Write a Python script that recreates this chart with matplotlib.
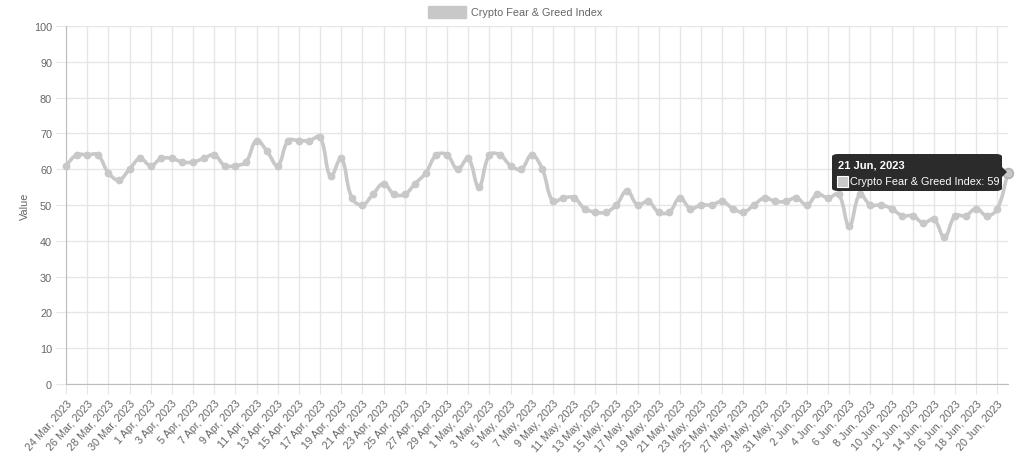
import datetime as dt
import numpy as np
import matplotlib
matplotlib.use("Agg")
import matplotlib.pyplot as plt
from matplotlib.path import Path
from matplotlib.patches import PathPatch, FancyBboxPatch, Rectangle, Polygon

# ---- data ----
start_date = dt.date(2023, 3, 24)
values = [61, 64, 64, 64, 59, 57, 60, 63, 61, 63,
          63, 62, 62, 63, 64, 61, 61, 62, 68, 65,
          61, 68, 68, 68, 69, 58, 63, 52, 50, 53,
          56, 53, 53, 56, 59, 64, 64, 60, 63, 55,
          64, 64, 61, 60, 64, 60, 51, 52, 52, 49,
          48, 48, 50, 54, 50, 51, 48, 48, 52, 49,
          50, 50, 51, 49, 48, 50, 52, 51, 51, 52,
          50, 53, 52, 53, 44, 53, 50, 50, 49, 47,
          47, 45, 46, 41, 47, 47, 49, 47, 49, 59]
dates = [start_date + dt.timedelta(days=i) for i in range(len(values))]
labels = [f"{d.day} {d.strftime('%b')}, {d.year}" for d in dates]
series_name = "Crypto Fear & Greed Index"
y_ticks = list(range(0, 101, 10))

# ---- style ----
plt.rcParams['font.family'] = ['Liberation Sans', 'DejaVu Sans']
W, H = 1024, 464
fig = plt.figure(figsize=(W / 100, H / 100), dpi=100)
L, R, T, B = 66, 1008, 27, 385
ax = fig.add_axes([L / W, 1 - B / H, (R - L) / W, (B - T) / H])

line_col = "#c8c8c8"
grid_col = "#e6e6e6"
text_col = "#666666"
fs = 7.8

n = len(values)
x = np.arange(n, dtype=float)
y = np.array(values, dtype=float)

ax.set_xlim(0, n - 1)
ax.set_ylim(0, 100)

# smooth curve (chart.js style bezier, tension 0.4) computed in pixel space
sx = (R - L) / (n - 1)
sy = (B - T) / 100.0
px, py = x * sx, y * sy
tension = 0.4
cp_prev = np.zeros((n, 2)); cp_next = np.zeros((n, 2))
for i in range(n):
    p0 = (px[max(i - 1, 0)], py[max(i - 1, 0)])
    p1 = (px[i], py[i])
    p2 = (px[min(i + 1, n - 1)], py[min(i + 1, n - 1)])
    d01 = np.hypot(p1[0] - p0[0], p1[1] - p0[1])
    d12 = np.hypot(p2[0] - p1[0], p2[1] - p1[1])
    s01 = d01 / (d01 + d12) if (d01 + d12) else 0
    s12 = d12 / (d01 + d12) if (d01 + d12) else 0
    fa, fb = tension * s01, tension * s12
    cp_prev[i] = (p1[0] - fa * (p2[0] - p0[0]), p1[1] - fa * (p2[1] - p0[1]))
    cp_next[i] = (p1[0] + fb * (p2[0] - p0[0]), p1[1] + fb * (p2[1] - p0[1]))
verts = [(x[0], y[0])]
codes = [Path.MOVETO]
for i in range(n - 1):
    verts += [(cp_next[i][0] / sx, cp_next[i][1] / sy),
              (cp_prev[i + 1][0] / sx, cp_prev[i + 1][1] / sy),
              (x[i + 1], y[i + 1])]
    codes += [Path.CURVE4] * 3
ax.add_patch(PathPatch(Path(verts, codes), fill=False, edgecolor=line_col,
                       lw=2.6, zorder=3, capstyle='round', joinstyle='round'))
ax.plot(x[:-1], y[:-1], 'o', ms=4.6, color=line_col, mec=line_col, zorder=4, clip_on=False)
ax.plot(x[-1:], y[-1:], 'o', ms=7, color=line_col, mec="#b0b0b0", mew=1.2, zorder=5, clip_on=False)

# axes / grid
tick_idx = list(range(0, n, 2))
ax.set_xticks(tick_idx)
ax.set_xticklabels([labels[i] for i in tick_idx], rotation=48, ha='right',
                   rotation_mode='anchor', fontsize=fs, color=text_col)
ax.set_yticks(y_ticks)
ax.set_yticklabels([str(v) for v in y_ticks], fontsize=fs, color=text_col)
ax.grid(True, color=grid_col, lw=1)
ax.set_axisbelow(True)
ax.tick_params(axis='both', length=7, color=grid_col, pad=3)
for s in ['top', 'right']:
    ax.spines[s].set_visible(False)
for s in ['left', 'bottom']:
    ax.spines[s].set_color("#bdbdbd")
ax.set_ylabel("Value", fontsize=fs, color=text_col, labelpad=3)

# legend
fig.patches.append(Rectangle((428 / W, 1 - 19 / H), 38 / W, 12 / H,
                             transform=fig.transFigure, facecolor=line_col,
                             edgecolor=line_col, figure=fig))
fig.text(471 / W, 1 - 12.5 / H, series_name, fontsize=fs, color=text_col,
         va='center', ha='left')

# tooltip
bx0, by0, bx1, by1 = 832, 155, 1002, 192
fig.patches.append(FancyBboxPatch((bx0 / W, 1 - by1 / H), (bx1 - bx0) / W, (by1 - by0) / H,
                                  boxstyle="round,pad=0,rounding_size=0.006",
                                  transform=fig.transFigure, facecolor="#2b2b2b",
                                  edgecolor="none", figure=fig, zorder=10))
cy = 173
fig.patches.append(Polygon([(bx1 / W, 1 - (cy - 5) / H), ((bx1 + 5) / W, 1 - cy / H),
                            (bx1 / W, 1 - (cy + 5) / H)], closed=True,
                           transform=fig.transFigure, facecolor="#2b2b2b",
                           edgecolor="none", figure=fig, zorder=10))
fig.text(838 / W, 1 - 165 / H, labels[-1], fontsize=8.0, fontweight='bold',
         color='white', va='center', ha='left', zorder=11)
fig.patches.append(Rectangle((836.5 / W, 1 - 187.5 / H), 11 / W, 11 / H,
                             transform=fig.transFigure, facecolor=line_col,
                             edgecolor='white', lw=0.8, figure=fig, zorder=11))
fig.text(850 / W, 1 - 182 / H, f"{series_name}: {values[-1]}", fontsize=7.8,
         color='white', va='center', ha='left', zorder=11)

fig.savefig("out.png", dpi=100)
